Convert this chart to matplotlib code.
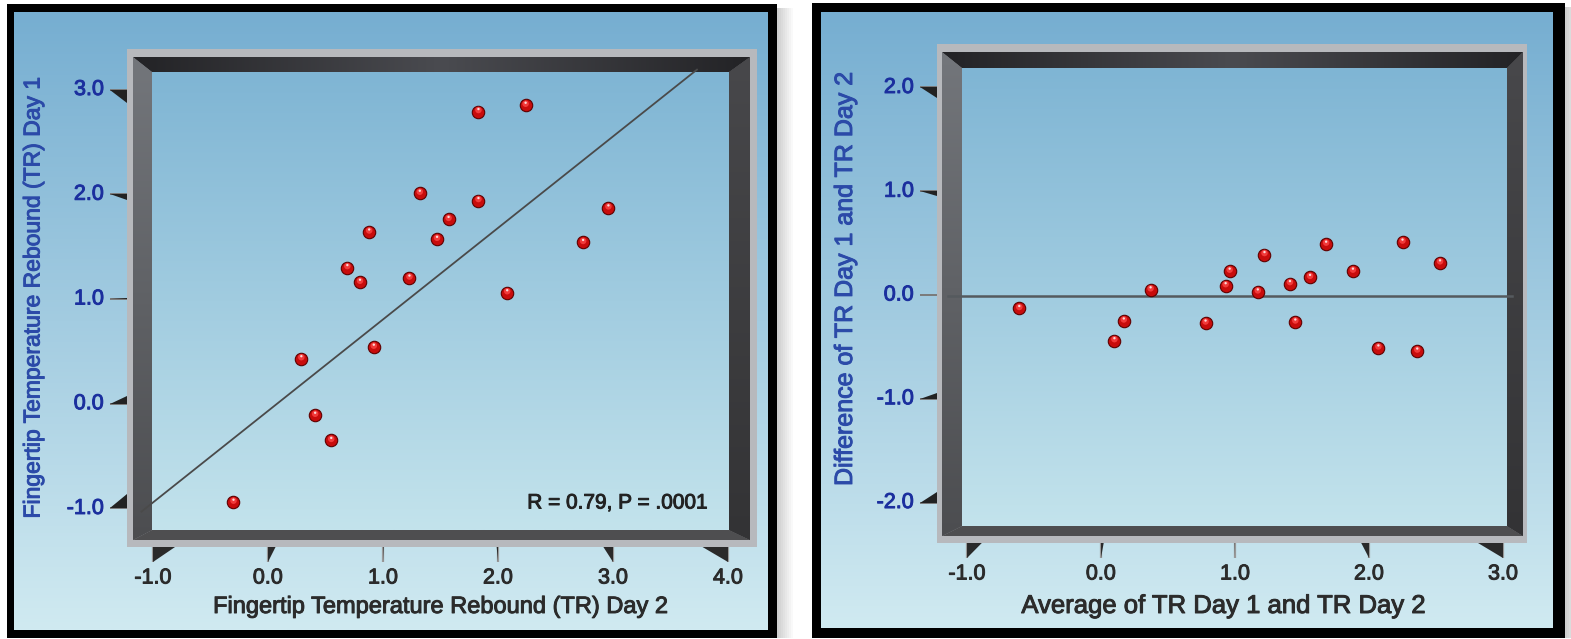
import numpy as np
import matplotlib
matplotlib.use("Agg")
import matplotlib.pyplot as plt
import matplotlib.patheffects as pe
from matplotlib.patches import Polygon, Rectangle
from matplotlib.colors import LinearSegmentedColormap
from matplotlib import transforms

plt.rcParams["font.family"] = ["Liberation Sans", "DejaVu Sans"]

# ---- data ----
day2 = [1.83, 2.24, 1.32, 1.83, 1.57, 2.96, 0.88, 1.47, 2.74, 0.69, 0.80, 1.23, 2.08, 0.92, 0.29, 0.41, 0.55, -0.30]
day1 = [2.79, 2.85, 2.01, 1.94, 1.76, 1.87, 1.64, 1.57, 1.54, 1.30, 1.16, 1.20, 1.06, 0.54, 0.43, -0.11, -0.35, -0.94]
fit_x = [-1.10, 3.73]
fit_y = [-1.03, 3.19]

avg_tr = [-0.61, 0.10, 0.17, 0.37, 0.78, 0.93, 0.96, 1.17, 1.22, 1.41, 1.45, 1.56, 1.68, 1.88, 2.07, 2.25, 2.36, 2.53]
diff_tr = [-0.13, -0.44, -0.25, 0.05, -0.27, 0.09, 0.23, 0.03, 0.39, 0.11, -0.26, 0.17, 0.49, 0.23, -0.51, 0.51, -0.54, 0.31]
mean_x = [-1.14, 3.07]
mean_diff = -0.01

left_xticks = [-1, 0, 1, 2, 3, 4]
left_yticks = [-1, 0, 1, 2, 3]
right_xticks = [-1, 0, 1, 2, 3]
right_yticks = [-2, -1, 0, 1, 2]
stat_text = "R = 0.79, P = .0001"

W, H = 1571, 639
fig = plt.figure(figsize=(W / 100, H / 100), dpi=100)
fig.patch.set_facecolor("white")
cv = fig.add_axes([0, 0, 1, 1])
cv.axis("off")

vgrad = np.linspace(0, 1, 256)[:, None]
hgrad = np.abs(np.linspace(-1, 1, 256))[None, :]


def gradient(x0, y0, x1, y1, c0, c1, z=1, g=vgrad, clip=None):
    cm = LinearSegmentedColormap.from_list("g", [c0, c1])
    im = cv.imshow(g, extent=(x0, x1, y1, y0), cmap=cm, aspect="auto",
                   interpolation="bilinear", zorder=z, vmin=0, vmax=1)
    if clip is not None:
        im.set_clip_path(clip)


def rect(x0, y0, x1, y1, color, z=1, alpha=1):
    cv.add_patch(Rectangle((x0, y0), x1 - x0, y1 - y0, fc=color, ec="none", zorder=z, alpha=alpha))


def poly(pts, color, z=3):
    p = Polygon(pts, closed=True, fc=color, ec="none", zorder=z)
    cv.add_patch(p)
    return p


# outer black panels + background gradient + drop shadow
for (bx0, by0, bx1, by1), (ix0, iy0, ix1, iy1) in [((7, 4, 777, 638), (14, 12, 768, 630)),
                                                     ((812, 3, 1565, 638), (821, 12, 1553, 628))]:
    for k in range(8):
        rect(bx1 + k * 2, by0 + 4, bx1 + k * 2 + 2, by1, "#555555", z=0.5, alpha=0.28 * (1 - k / 8))
    rect(bx0, by0, bx1, by1, "black", z=0.8)
    gradient(ix0, iy0, ix1, iy1, "#76aed1", "#d0eaf1", z=0.9)

# 3D frames
frames = [((127, 49, 757, 547), (133, 57, 750, 540), (152, 72, 729, 530)),
          ((937, 44, 1527, 543), (942, 52, 1523, 536), (962, 68, 1507, 526))]
for (gx0, gy0, gx1, gy1), (dx0, dy0, dx1, dy1), (ix0, iy0, ix1, iy1) in frames:
    rect(gx0, gy0, gx1, gy1, "#b7b9bd", z=2)
    top = poly([(dx0, dy0), (dx1, dy0), (ix1, iy0), (ix0, iy0)], "#2c2c30")
    gradient(dx0, dy0, dx1, iy0, "#4a4b50", "#232326", z=3.1, g=hgrad, clip=top)
    left = poly([(dx0, dy0), (ix0, iy0), (ix0, iy1), (dx0, dy1)], "#66696e")
    gradient(dx0, dy0, ix0, dy1, "#73767b", "#4c4d50", z=3.1, clip=left)
    poly([(dx0, dy1), (ix0, iy1), (ix1, iy1), (dx1, dy1)], "#4e4e50")
    right = poly([(dx1, dy0), (ix1, iy0), (ix1, iy1), (dx1, dy1)], "#3b3b3d")
    gradient(ix1, dy0, dx1, dy1, "#48484b", "#333335", z=3.1, clip=right)
    gradient(ix0, iy0, ix1, iy1, "#7fb5d4", "#c3e3ec", z=4)

cv.set_xlim(0, W)
cv.set_ylim(H, 0)

# data axes placed over the frames
axL = fig.add_axes([127 / W, 1 - 547 / H, 630 / W, 498 / H])
axL.set_xlim(-1.226, 4.252)
axL.set_ylim(-1.368, 3.387)
axR = fig.add_axes([937 / W, 1 - 543 / H, 590 / W, 499 / H])
axR.set_xlim(-1.224, 3.179)
axR.set_ylim(-2.390, 2.419)
for a in (axL, axR):
    a.set_facecolor("none")
    for s in a.spines.values():
        s.set_visible(False)
    a.set_xticks([])
    a.set_yticks([])
    a.set_zorder(5)


def balls(a, xs, ys):
    a.scatter(xs, ys, s=80, c="#c80c0c", edgecolors="#5e0000", linewidths=0.8, zorder=6)
    hi = transforms.offset_copy(a.transData, fig=fig, x=0, y=1.5, units="dots")
    a.scatter(xs, ys, s=22, c="#ff4a4a", edgecolors="none", alpha=0.75, transform=hi, zorder=7)
    hi2 = transforms.offset_copy(a.transData, fig=fig, x=0, y=2.5, units="dots")
    a.scatter(xs, ys, s=3, c="white", edgecolors="none", alpha=0.8, transform=hi2, zorder=8)


axL.plot(fit_x, fit_y, color="#4a4a4a", lw=1.3, zorder=5)
balls(axL, day2, day1)
axR.plot(mean_x, [mean_diff, mean_diff], color="#555a5e", lw=1.8, zorder=5)
balls(axR, avg_tr, diff_tr)

fig.canvas.draw()


def to_px(a, x, y):
    dx, dy = a.transData.transform((x, y))
    return dx, H - dy


def thick(c):
    return [pe.withStroke(linewidth=0.7, foreground=c)]


blue = "#1b2f9e"
lblue = "#2b4aa8"
dark = "#2b2b2b"
specs = [(axL, left_xticks, left_yticks, 127, 547, 430, 295, 290, 0.065),
         (axR, right_xticks, right_yticks, 937, 543, 1200, 303, 292, 0.05)]
for a, xt, yt, fx, fy, cx, hw, cy, ky in specs:
    for v in yt:
        _, py = to_px(a, 0, v)
        d = ky * (cy - py)
        cv.plot([fx - 17, fx], [py, py], color="#7a7a7a", lw=1.4, zorder=3,
                solid_capstyle="butt")
        poly([(fx - 17, py), (fx, py), (fx, py + d)], "#222222")
        cv.text(fx - 23, py, f"{v:.1f}", ha="right", va="center", fontsize=15.5, color=blue,
                zorder=6, path_effects=thick(blue))
    for v in xt:
        px, _ = to_px(a, v, 0)
        u = (px - cx) / hw
        d = -25 * u * abs(u)
        cv.plot([px, px], [fy, fy + 15], color="#9a9a9a", lw=1.6, zorder=3, solid_capstyle="butt")
        poly([(px, fy), (px + d, fy), (px, fy + 15)], "#2a2a2a")
        cv.text(px, fy + 31, f"{v:.1f}", ha="center", va="center", fontsize=15.5, color=dark,
                zorder=6, path_effects=thick(dark))

cv.text(33, 298, "Fingertip Temperature Rebound (TR) Day 1", rotation=90, ha="center", va="center",
        fontsize=16.5, color=lblue, zorder=6, path_effects=thick(lblue))
cv.text(441, 607, "Fingertip Temperature Rebound (TR) Day 2", ha="center", va="center",
        fontsize=17, color=dark, zorder=6, path_effects=thick(dark))
cv.text(845, 279, "Difference of TR Day 1 and TR Day 2", rotation=90, ha="center", va="center",
        fontsize=18, color=lblue, zorder=6, path_effects=thick(lblue))
cv.text(1224, 606, "Average of TR Day 1 and TR Day 2", ha="center", va="center",
        fontsize=18.5, color=dark, zorder=6, path_effects=thick(dark))
cv.text(708, 503, stat_text, ha="right", va="center", fontsize=15, color="#222222", zorder=6,
        path_effects=thick("#222222"))

fig.savefig("out.png", dpi=100, facecolor="white")
